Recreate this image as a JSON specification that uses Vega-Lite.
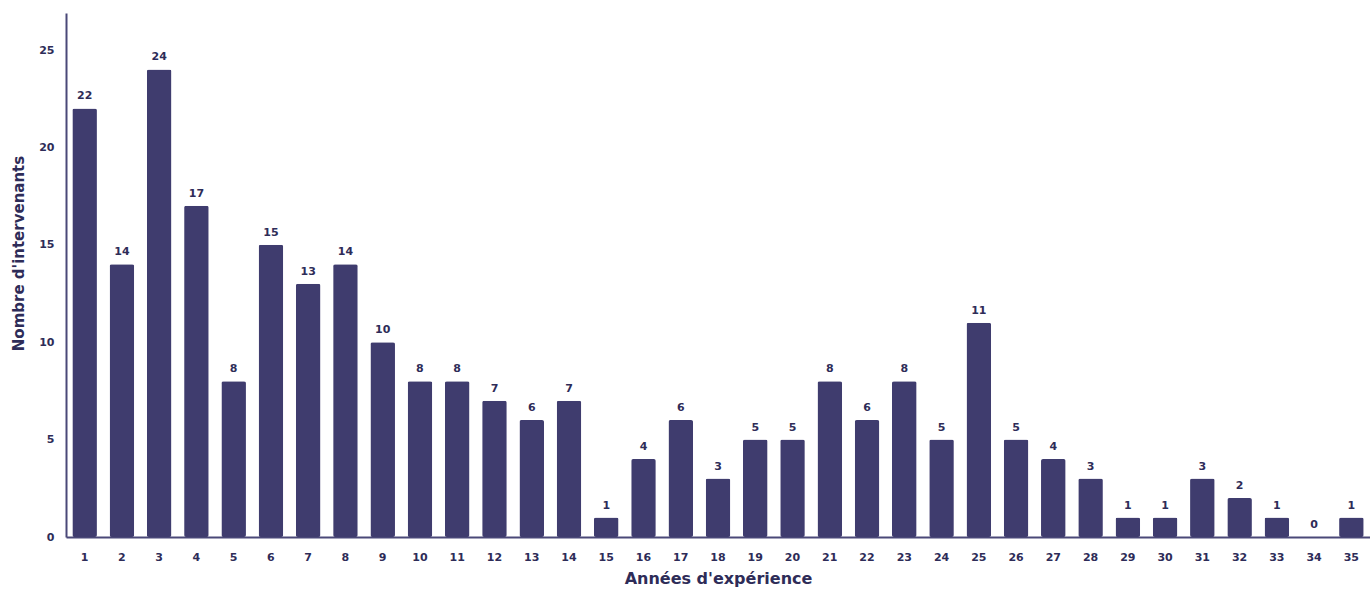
{
  "$schema": "https://vega.github.io/schema/vega-lite/v6.json",
  "autosize": "none",
  "width": 1304,
  "height": 524,
  "padding": {"left": 66, "top": 13, "right": 0, "bottom": 57},
  "background": "white",
  "config": {"view": {"stroke": null}, "font": "DejaVu Sans"},
  "data": {"values": [
    {"annee": 1, "n": 22}, {"annee": 2, "n": 14}, {"annee": 3, "n": 24}, {"annee": 4, "n": 17},
    {"annee": 5, "n": 8}, {"annee": 6, "n": 15}, {"annee": 7, "n": 13}, {"annee": 8, "n": 14},
    {"annee": 9, "n": 10}, {"annee": 10, "n": 8}, {"annee": 11, "n": 8}, {"annee": 12, "n": 7},
    {"annee": 13, "n": 6}, {"annee": 14, "n": 7}, {"annee": 15, "n": 1}, {"annee": 16, "n": 4},
    {"annee": 17, "n": 6}, {"annee": 18, "n": 3}, {"annee": 19, "n": 5}, {"annee": 20, "n": 5},
    {"annee": 21, "n": 8}, {"annee": 22, "n": 6}, {"annee": 23, "n": 8}, {"annee": 24, "n": 5},
    {"annee": 25, "n": 11}, {"annee": 26, "n": 5}, {"annee": 27, "n": 4}, {"annee": 28, "n": 3},
    {"annee": 29, "n": 1}, {"annee": 30, "n": 1}, {"annee": 31, "n": 3}, {"annee": 32, "n": 2},
    {"annee": 33, "n": 1}, {"annee": 34, "n": 0}, {"annee": 35, "n": 1}
  ]},
  "encoding": {
    "x": {
      "field": "annee", "type": "ordinal",
      "scale": {"paddingInner": 0.34, "paddingOuter": 0.17},
      "axis": {
        "title": "Années d'expérience", "titleFontSize": 16, "titleFontWeight": "bold",
        "titleColor": "#2e2c58", "titlePadding": 8,
        "labelAngle": 0, "labelFontSize": 11, "labelFontWeight": "bold", "labelColor": "#2e2c58",
        "labelPadding": 14, "ticks": false, "domainColor": "#4a4878", "domainWidth": 2
      }
    },
    "y": {
      "field": "n", "type": "quantitative",
      "scale": {"domain": [0, 26.9], "nice": false},
      "axis": {
        "title": "Nombre d'intervenants", "titleFontSize": 15, "titleFontWeight": "bold",
        "titleColor": "#2e2c58", "titlePadding": 12, "titleY": 240,
        "values": [0, 5, 10, 15, 20, 25], "grid": false, "ticks": false,
        "labelFontSize": 11, "labelFontWeight": "bold", "labelColor": "#2e2c58", "labelPadding": 12,
        "domainColor": "#4a4878", "domainWidth": 2
      }
    }
  },
  "layer": [
    {"mark": {"type": "bar", "color": "#3f3c6e", "cornerRadius": 2}},
    {"mark": {"type": "text", "dy": -12, "fontSize": 11, "fontWeight": "bold", "color": "#2e2c58"},
     "encoding": {"text": {"field": "n", "type": "quantitative"}}}
  ]
}
